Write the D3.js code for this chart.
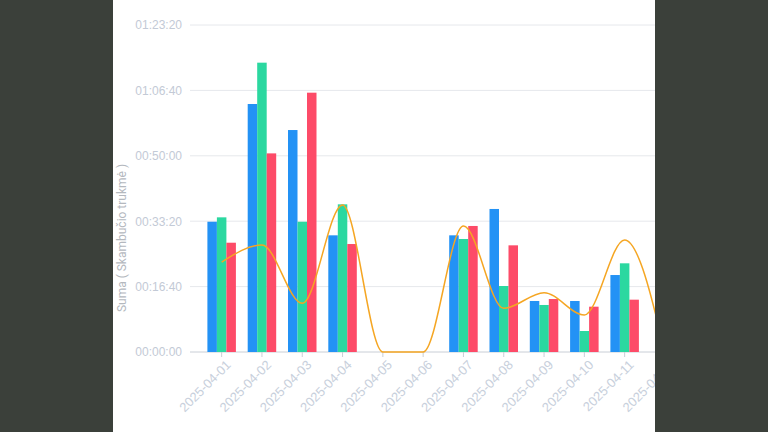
<!DOCTYPE html>
<html>
<head>
<meta charset="utf-8">
<script src="https://cdn.jsdelivr.net/npm/d3@7"></script>
<style>
  body { margin: 0; background: #3b403a; }
  svg { display: block; font-family: Roboto, "Noto Sans", sans-serif; }
</style>
</head>
<body>
<svg id="chart" width="768" height="432"></svg>
<script>
// categories (last one is cut off by the panel edge)
const dates = ['2025-04-01', '2025-04-02', '2025-04-03', '2025-04-04', '2025-04-05', '2025-04-06',
  '2025-04-07', '2025-04-08', '2025-04-09', '2025-04-10', '2025-04-11', '2025-04-12'];
// durations in seconds
const blueVals = [1992, 3792, 3394, 1784, 0, 0, 1784, 2187, 780, 780, 1177, 0];
const greenVals = [2059, 4424, 1992, 2258, 0, 0, 1728, 1009, 719, 321, 1356, 0];
const redVals = [1671, 3037, 3965, 1651, 0, 0, 1927, 1631, 810, 693, 800, 0];
const lineVals = [1376, 1636, 744, 2248, 0, 0, 1927, 668, 907, 566, 1713, 0];
const yTicks = [0, 1000, 2000, 3000, 4000, 5000];

const svg = d3.select('#chart');

// white panel
svg.append('rect').attr('x', 113).attr('y', 0).attr('width', 542).attr('height', 432).attr('fill', '#fff');

const chart = svg.append('g');
chart.append('clipPath').attr('id', 'clip')
  .append('rect').attr('x', 113).attr('y', 0).attr('width', 542).attr('height', 432);
chart.attr('clip-path', 'url(#clip)');

const yScale = d3.scaleLinear().domain([0, 5000]).range([352, 25]);
const xScale = d3.scaleBand().domain(dates).range([201.5, 201.5 + 12 * 40.3]);
const sub = d3.scaleBand().domain(['b', 'g', 'r']).range([0, 28.5]);

const fmt = s => {
  const h = Math.floor(s / 3600), m = Math.floor(s % 3600 / 60), sec = s % 60;
  return [h, m, sec].map(v => String(v).padStart(2, '0')).join(':');
};

// grid
chart.append('g').selectAll('line').data(yTicks).join('line')
  .attr('x1', 190).attr('x2', 700)
  .attr('y1', d => yScale(d)).attr('y2', d => yScale(d))
  .attr('stroke', d => d === 0 ? '#c9ced6' : '#e6e8ec').attr('stroke-width', 1);

// y axis labels
const yAxis = chart.append('g').attr('transform', 'translate(182,0)')
  .call(d3.axisLeft(yScale).tickValues(yTicks).tickFormat(fmt).tickSize(0).tickPadding(0));
yAxis.select('.domain').remove();
yAxis.selectAll('text').attr('fill', '#c3cad6').attr('font-size', 12);

svg.append('text').attr('transform', 'translate(126,238) rotate(-90)')
  .attr('text-anchor', 'middle').attr('fill', '#b4b8be').attr('font-size', 12)
  .text('Suma ( Skambučio trukmė )');

// x axis
const xAxis = chart.append('g').attr('transform', 'translate(0,352)')
  .call(d3.axisBottom(xScale).tickSize(5).tickPadding(4));
xAxis.select('.domain').remove();
xAxis.selectAll('line').attr('stroke', '#c9ced6');
xAxis.selectAll('text').attr('fill', '#c8d0dc').attr('font-size', 13)
  .attr('text-anchor', 'end').attr('dx', '-0.2em').attr('dy', '0.6em')
  .attr('transform', 'rotate(-45)');

// bars
const series = [['b', blueVals, '#2392f5'], ['g', greenVals, '#2bd8a0'], ['r', redVals, '#fd4b68']];
series.forEach(([k, vals, color]) => {
  chart.append('g').selectAll('rect').data(dates).join('rect')
    .attr('x', d => xScale(d) + xScale.bandwidth() / 2 - 14.25 + sub(k))
    .attr('width', sub.bandwidth())
    .attr('y', (d, i) => yScale(vals[i]))
    .attr('height', (d, i) => yScale(0) - yScale(vals[i]))
    .attr('fill', color);
});

// line
const line = d3.line()
  .x((d, i) => xScale(dates[i]) + xScale.bandwidth() / 2)
  .y(d => yScale(d))
  .curve(d3.curveMonotoneX);
chart.append('path').datum(lineVals).attr('d', line)
  .attr('fill', 'none').attr('stroke', '#f5a623').attr('stroke-width', 1.5);
</script>
</body>
</html>
